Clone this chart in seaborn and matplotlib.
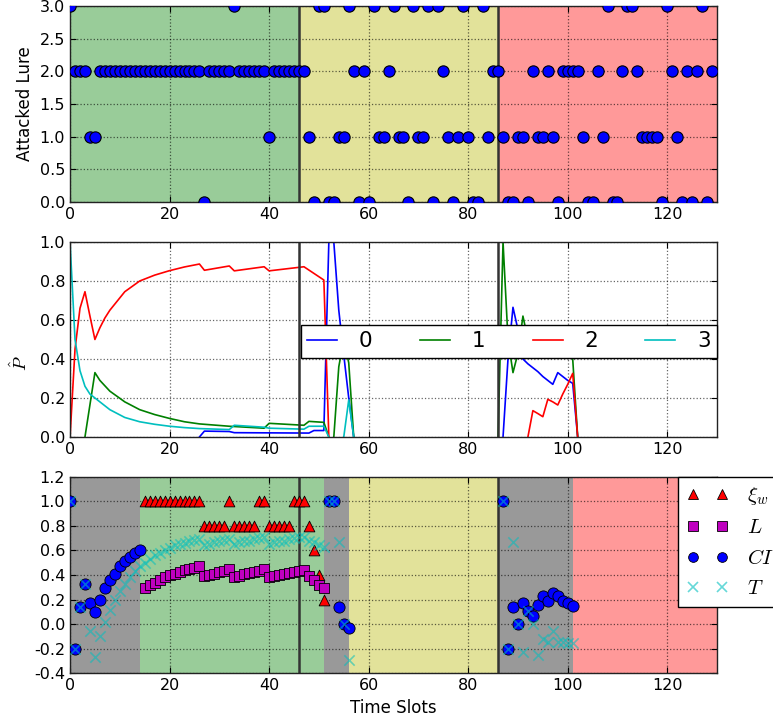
import matplotlib
matplotlib.use("Agg")
import matplotlib.pyplot as plt
import numpy as np
import pandas as pd
import seaborn as sns
from matplotlib.lines import Line2D

plt.rcParams["mathtext.fontset"] = "cm"
plt.rcParams["axes.unicode_minus"] = False
plt.rcParams["font.size"] = 11.5

# ---- top panel: lure hit in every time slot ---------------------------------
slots = list(range(130))
attacked_lure = [
    3, 2, 2, 2, 1, 1, 2, 2, 2, 2,
    2, 2, 2, 2, 2, 2, 2, 2, 2, 2,
    2, 2, 2, 2, 2, 2, 2, 0, 2, 2,
    2, 2, 2, 3, 2, 2, 2, 2, 2, 2,
    1, 2, 2, 2, 2, 2, 2, 2, 1, 0,
    3, 3, 0, 0, 1, 1, 3, 2, 0, 2,
    0, 3, 1, 1, 2, 3, 1, 1, 0, 3,
    1, 1, 3, 0, 3, 2, 1, 0, 1, 3,
    1, 0, 0, 3, 1, 2, 2, 1, 0, 0,
    1, 1, 0, 2, 1, 1, 2, 1, 0, 2,
    2, 2, 2, 1, 0, 0, 2, 1, 3, 0,
    0, 2, 3, 3, 2, 1, 1, 1, 1, 0,
    3, 2, 1, 0, 2, 0, 2, 3, 0, 2,
]
phase_start = [0, 46, 86]
phase_end = [46, 86, 130]
phase_kind = ["green", "yellow", "red"]
switch_slots = [46, 86]

# ---- middle panel: estimated attack probability per lure --------------------
p0_t = [0, 26, 27, 32, 33, 48, 49, 51, 52, 53, 54, 55, 56, 57,
        86, 87, 88, 89, 90, 91, 92, 93, 94, 95, 96, 97, 98, 99, 100, 101, 102]
p0_v = [0, 0, 0.03, 0.028, 0.022, 0.02, 0.033, 0.033, 1.0, 1.0, 0.65, 0.42, 0.2, 0.0,
        0, 0, 0.4, 0.665, 0.55, 0.40, 0.375, 0.355, 0.335, 0.31, 0.29, 0.27, 0.33, 0.31, 0.29, 0.275, 0.0]

p1_t = [0, 3, 5, 6, 8, 11, 14, 17, 20, 23, 26, 32, 39, 40, 47, 48, 51, 52, 53, 54, 55, 56, 57,
        86, 87, 88, 89, 90, 91, 92, 95, 98, 100, 101, 102]
p1_v = [0, 0, 0.33, 0.29, 0.235, 0.18, 0.14, 0.115, 0.095, 0.078, 0.067, 0.055, 0.045, 0.07, 0.06, 0.08, 0.075,
        0.0, 0.0, 0.36, 0.5, 0.38, 0.0,
        0, 1.0, 0.5, 0.33, 0.43, 0.62, 0.5, 0.48, 0.47, 0.44, 0.40, 0.0]

p2_t = [0, 1, 2, 3, 4, 5, 6, 7, 8, 11, 14, 17, 20, 23, 26, 27, 32, 33, 39, 40, 47, 51, 52, 57,
        86, 92, 93, 94, 95, 96, 97, 98, 99, 100, 101, 102]
p2_v = [0, 0.45, 0.66, 0.745, 0.62, 0.50, 0.56, 0.61, 0.65, 0.745, 0.80, 0.83, 0.853, 0.872, 0.887,
        0.855, 0.877, 0.852, 0.873, 0.852, 0.873, 0.805, 0.0, 0.0,
        0, 0, 0.135, 0.12, 0.104, 0.193, 0.18, 0.164, 0.22, 0.27, 0.326, 0.0]

p3_t = [0, 1, 2, 3, 4, 5, 6, 8, 11, 14, 17, 20, 23, 26, 32, 33, 39, 40, 47, 48, 51, 52, 55, 56, 57,
        86, 102]
p3_v = [1.0, 0.5, 0.34, 0.26, 0.22, 0.2, 0.18, 0.14, 0.10, 0.078, 0.065, 0.055, 0.048, 0.043, 0.038,
        0.06, 0.05, 0.045, 0.04, 0.055, 0.055, 0.0, 0.0, 0.19, 0.0,
        0, 0]

# ---- bottom panel: xi_w, L, CI and T ----------------------------------------
xi_t = list(range(15, 52))
xi_v = [1.0] * 12 + [0.8] * 5 + [1.0] + [0.8] * 5 + [1.0] * 2 + [0.8] * 5 + [1.0] * 3 + [0.8, 0.6, 0.4, 0.2]

L_t = list(range(15, 52))
L_v = [0.29, 0.315, 0.335, 0.36, 0.38, 0.40, 0.41, 0.425, 0.44, 0.45, 0.46, 0.47,
       0.39, 0.40, 0.41, 0.42, 0.435, 0.445,
       0.385, 0.395, 0.405, 0.415, 0.425, 0.435, 0.445,
       0.38, 0.39, 0.40, 0.41, 0.415, 0.425, 0.435, 0.44,
       0.39, 0.355, 0.32, 0.29]

ci_t = list(range(0, 15)) + [52, 53, 54, 55, 56] + list(range(87, 102))
ci_v = [1.0, -0.2, 0.14, 0.33, 0.17, 0.10, 0.20, 0.29, 0.36, 0.41, 0.47, 0.51, 0.55, 0.58, 0.60,
        1.0, 1.0, 0.14, 0.0, -0.03,
        1.0, -0.2, 0.14, 0.0, 0.17, 0.105, 0.065, 0.155, 0.23, 0.19, 0.255, 0.225, 0.19, 0.17, 0.15]

T_t = list(range(0, 57)) + list(range(87, 102))
T_v = [1.0, -0.2, 0.14, 0.33,
       -0.06, -0.27, -0.10, 0.015, 0.115, 0.20, 0.27, 0.33, 0.38, 0.43, 0.47,
       0.50, 0.53, 0.56, 0.58, 0.60, 0.62, 0.64, 0.65, 0.66, 0.675, 0.685, 0.695,
       0.645, 0.655, 0.665, 0.675, 0.685, 0.695,
       0.655, 0.665, 0.675, 0.68, 0.69, 0.70, 0.71,
       0.655, 0.665, 0.675, 0.68, 0.69, 0.70, 0.705, 0.71,
       0.68, 0.665, 0.645, 0.625,
       1.0, 1.0, 0.665, 0.0, -0.29,
       1.0, -0.2, 0.67, 0.0, -0.23, 0.105, 0.0, -0.25, -0.125, -0.145, -0.055, -0.145, -0.145, -0.15, -0.15]

bg_start = [0, 14, 51, 56, 86, 101]
bg_end = [14, 51, 56, 86, 101, 130]
bg_kind = ["grey", "green", "grey", "yellow", "grey", "red"]

_BG = {"green": "#99CC99", "yellow": "#E2E29A", "red": "#FF9999", "grey": "#999999"}
_LURE_COLORS = ["#0000FF", "#008000", "#FF0000", "#00BFBF"]


def style_axes(ax, yticks):
    ax.set_xlim(0, 130)
    ax.set_xticks(range(0, 121, 20))
    ax.set_yticks(yticks)
    ax.set_ylim(yticks[0], yticks[-1])
    ax.grid(True, color="k", linestyle=":", linewidth=0.9, alpha=0.6)
    ax.tick_params(direction="in", top=True, right=True, length=4, labelsize=11.5)
    for sp in ax.spines.values():
        sp.set_color("#222222")
        sp.set_linewidth(1.0)
    for s in switch_slots:
        ax.axvline(s, color="#333333", lw=1.8, zorder=2)


def nonzero_runs(tt, vv):
    """Split a series into runs, leaving out stretches that sit flat on zero."""
    runs, cur = [], []
    for i in range(len(tt) - 1):
        if vv[i] == 0 and vv[i + 1] == 0:
            if cur:
                runs.append(cur)
                cur = []
        else:
            if not cur:
                cur = [i]
            cur.append(i + 1)
    if cur:
        runs.append(cur)
    return runs


fig = plt.figure(figsize=(7.73, 7.2), dpi=100)
ax1 = fig.add_axes([0.0906, 0.7194, 0.837, 0.2722])
ax2 = fig.add_axes([0.0906, 0.3931, 0.837, 0.2708])
ax3 = fig.add_axes([0.0906, 0.0649, 0.837, 0.2731])

# top
for a, b, k in zip(phase_start, phase_end, phase_kind):
    ax1.axvspan(a, b, color=_BG[k], lw=0, zorder=1)
sns.scatterplot(x=slots, y=attacked_lure, ax=ax1, color="#0000FF", edgecolor="k",
                linewidth=0.8, s=66, zorder=3, legend=False)
style_axes(ax1, np.arange(0, 3.01, 0.5))
ax1.set_ylabel("Attacked Lure", fontsize=12)

# middle
rows = []
for lure, (tt, vv) in enumerate([(p0_t, p0_v), (p1_t, p1_v), (p2_t, p2_v), (p3_t, p3_v)]):
    for r, idx in enumerate(nonzero_runs(tt, vv)):
        for i in idx:
            rows.append((str(lure), tt[i], vv[i], r))
df = pd.DataFrame(rows, columns=["lure", "t", "p", "seg"])
sns.lineplot(data=df, x="t", y="p", hue="lure", units="seg", estimator=None,
             palette=_LURE_COLORS, linewidth=1.2, legend=False, ax=ax2, zorder=2)
style_axes(ax2, np.arange(0, 1.01, 0.2))
ax2.set_xlabel("")
ax2.set_ylabel(r"$\hat{P}$", fontsize=13)
ax2.yaxis.set_label_coords(-0.06, 0.38)
handles = [Line2D([], [], color=c, lw=1.2) for c in _LURE_COLORS]
leg = ax2.legend(handles, ["0", "1", "2", "3"], ncol=4, loc="center right",
                 bbox_to_anchor=(1.0, 0.49), borderaxespad=0, fontsize=15.5,
                 handlelength=1.4, handletextpad=1.0, columnspacing=2.2,
                 borderpad=0.3, fancybox=False, framealpha=1)
leg.get_frame().set_edgecolor("k")
leg.set_zorder(5)

# bottom
for a, b, k in zip(bg_start, bg_end, bg_kind):
    ax3.axvspan(a, b, color=_BG[k], lw=0, zorder=1)
sns.scatterplot(x=xi_t, y=xi_v, marker="^", color="#FF0000", edgecolor="k", linewidth=0.6,
                s=60, ax=ax3, zorder=3, legend=False)
sns.scatterplot(x=L_t, y=L_v, marker="s", color="#BF00BF", edgecolor="k", linewidth=0.6,
                s=55, ax=ax3, zorder=3, legend=False)
sns.scatterplot(x=ci_t, y=ci_v, marker="o", color="#0000FF", edgecolor="k", linewidth=0.6,
                s=65, ax=ax3, zorder=3, legend=False)
sns.scatterplot(x=T_t, y=T_v, marker="x", color="#00BFBF", linewidth=1.2, alpha=0.55,
                s=55, ax=ax3, zorder=3, legend=False)
style_axes(ax3, np.round(np.arange(-0.4, 1.21, 0.2), 1))
ax3.set_xlabel("Time Slots", fontsize=12)

mk = dict(ls="none", markeredgecolor="k", markeredgewidth=0.6, markersize=7)
leg_handles = [
    Line2D([], [], marker="^", markerfacecolor="#FF0000", **mk),
    Line2D([], [], marker="s", markerfacecolor="#BF00BF", **mk),
    Line2D([], [], marker="o", markerfacecolor="#0000FF", **mk),
    Line2D([], [], ls="none", marker="x", color="#00BFBF", alpha=0.6, markersize=7, markeredgewidth=1.2),
]
leg3 = ax3.legend(leg_handles, [r"$\xi_w$", r"$L$", r"$CI$", r"$T$"], numpoints=2,
                  loc="upper left", bbox_to_anchor=(0.94, 1.0), borderaxespad=0,
                  fontsize=15, fancybox=False, framealpha=1, handletextpad=0.9)
leg3.get_frame().set_edgecolor("k")
leg3.set_zorder(5)

fig.savefig("out.png", dpi=100)
